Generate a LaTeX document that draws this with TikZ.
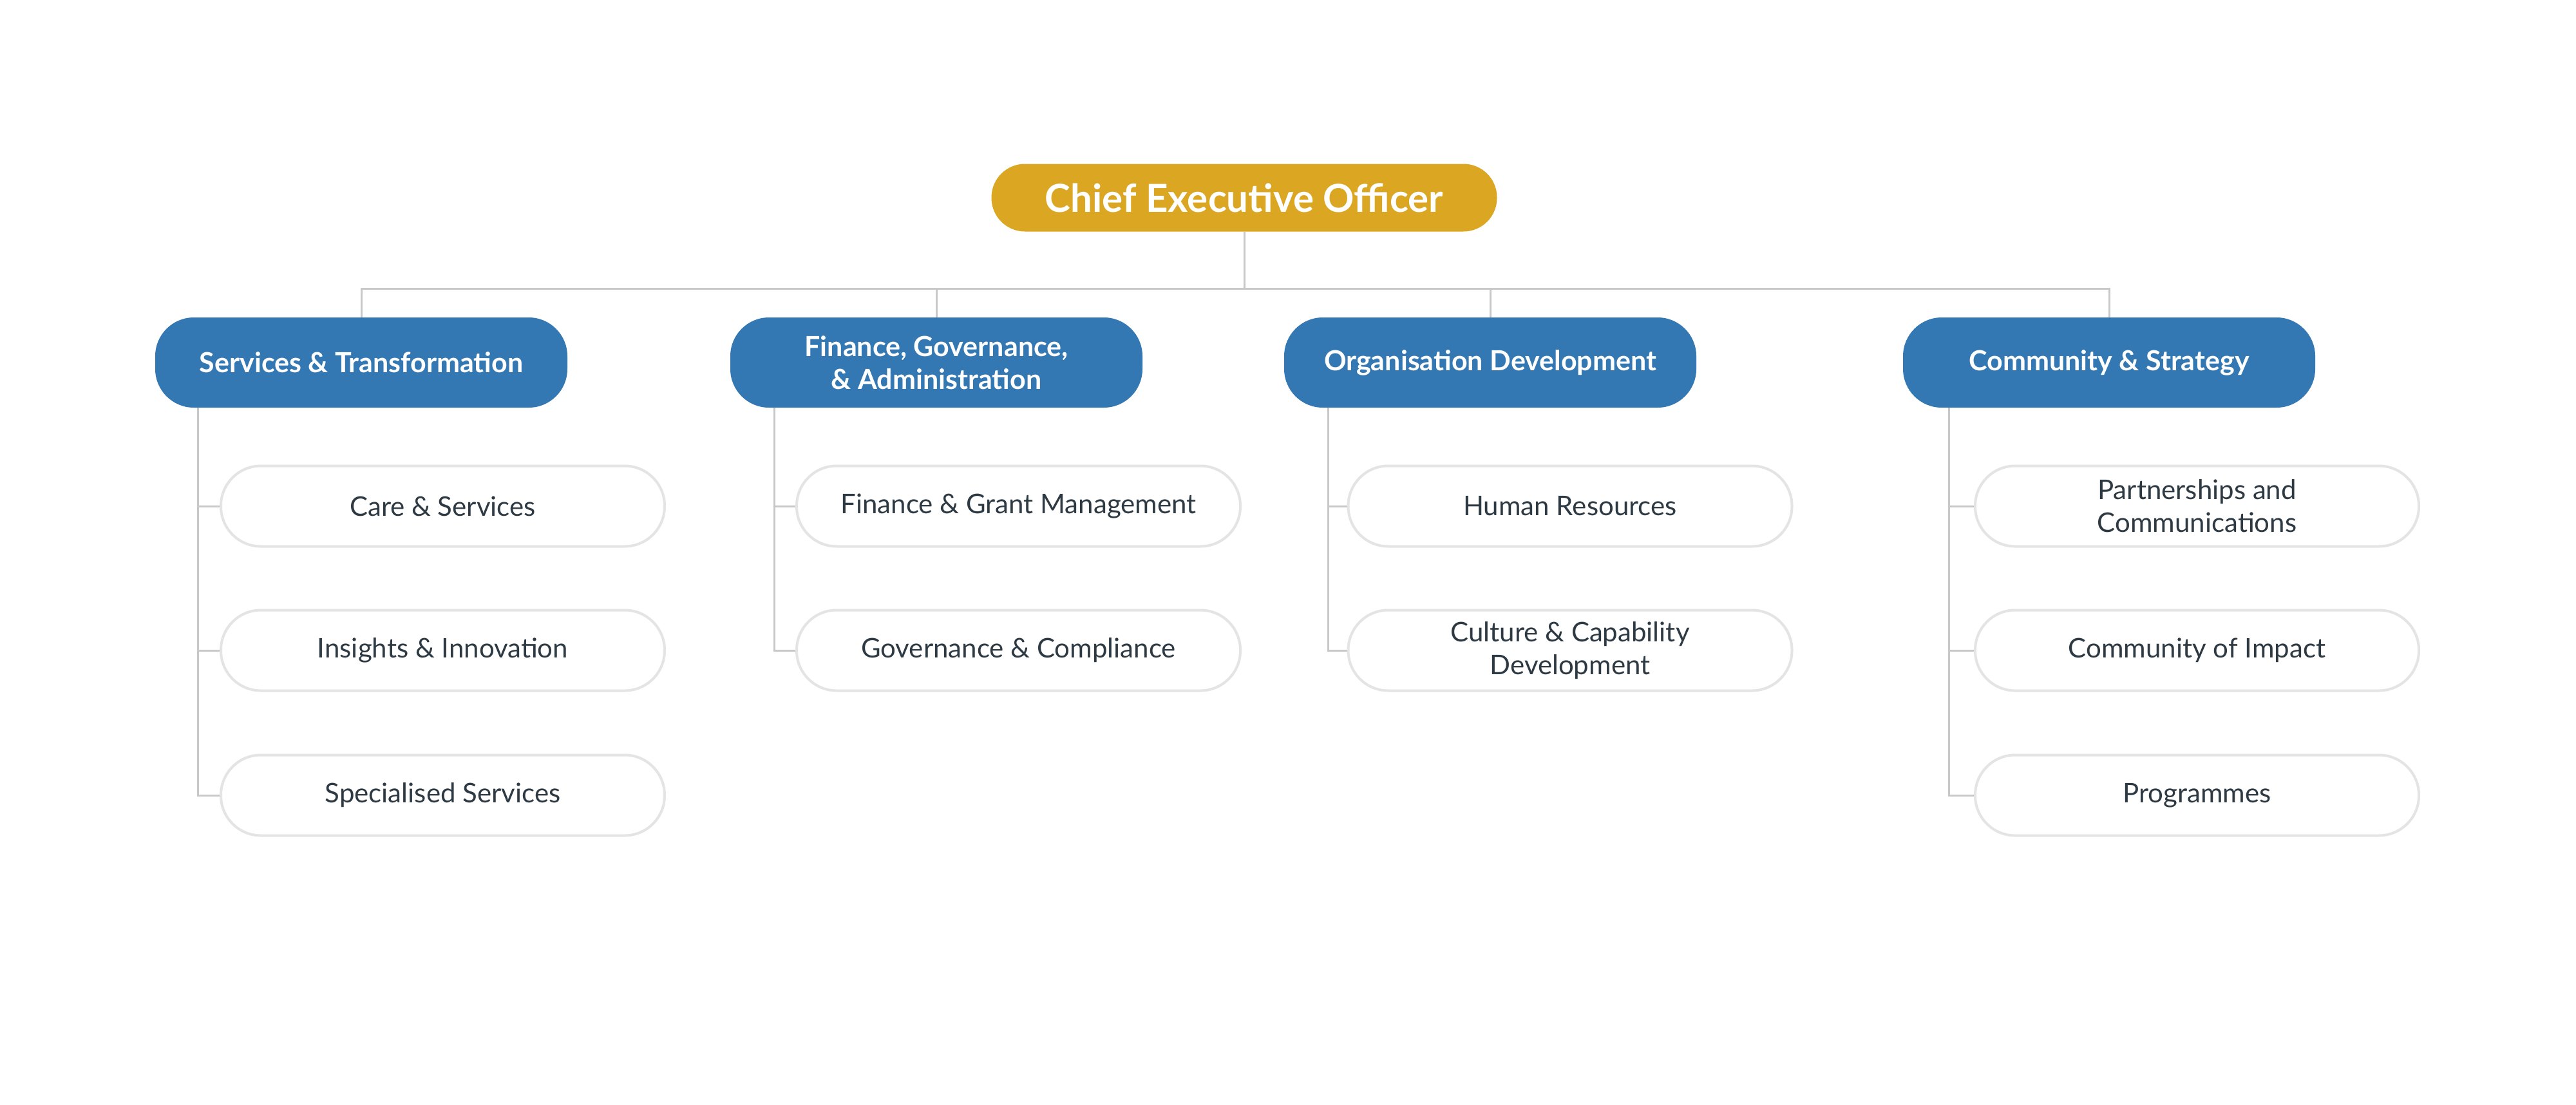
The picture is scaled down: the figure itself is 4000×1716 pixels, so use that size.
\documentclass[tikz,border=0pt]{standalone}
\usepackage{fontspec}
\setmainfont{Lato}
\definecolor{ceogold}{HTML}{DBA622}
\definecolor{deptblue}{HTML}{3378B3}
\definecolor{linegray}{HTML}{C8C8C8}
\definecolor{boxgray}{HTML}{E4E4E4}
\definecolor{textdark}{HTML}{2E3A43}
\begin{document}
\begin{tikzpicture}[x=1pt,y=-1pt,
  ceobox/.style={fill=ceogold, rounded corners=52pt, minimum width=785pt, minimum height=105pt,
    text=white, font=\fontsize{60}{64}\selectfont\bfseries, inner sep=0pt},
  deptbox/.style={fill=deptblue, rounded corners=60pt, minimum width=640pt, minimum height=140pt,
    text=white, font=\fontsize{43}{51}\selectfont\bfseries, align=center, inner sep=0pt},
  unitbox/.style={draw=boxgray, line width=4pt, fill=white, rounded corners=62pt,
    minimum width=689pt, minimum height=125pt, text=textdark,
    font=\fontsize{42}{51}\selectfont, align=center, inner sep=0pt},
  conn/.style={draw=linegray, line width=3pt}]
\fill[white] (0,0) rectangle (4000,1716);
\useasboundingbox (0,0) rectangle (4000,1716);

% nodes
\node[ceobox] (ceo) at (1932,307) {Chief Executive Officer};

\node[deptbox] (d1) at (561,563) {Services \& Transformation};
\node[deptbox] (d2) at (1454,563) {Finance, Governance,\\\& Administration};
\node[deptbox] (d3) at (2314,563) {Organisation Development};
\node[deptbox] (d4) at (3275,563) {Community \& Strategy};

\node[unitbox] (u11) at (687.5,786) {Care \& Services};
\node[unitbox] (u12) at (687.5,1010) {Insights \& Innovation};
\node[unitbox] (u13) at (687.5,1235) {Specialised Services};

\node[unitbox] (u21) at (1581.5,786) {Finance \& Grant Management};
\node[unitbox] (u22) at (1581.5,1010) {Governance \& Compliance};

\node[unitbox] (u31) at (2438,786) {Human Resources};
\node[unitbox] (u32) at (2438,1010) {Culture \& Capability\\Development};

\node[unitbox] (u41) at (3411.5,786) {Partnerships and\\Communications};
\node[unitbox] (u42) at (3411.5,1010) {Community of Impact};
\node[unitbox] (u43) at (3411.5,1235) {Programmes};

% branch coordinates
\coordinate (bus) at (0,448);
\coordinate (b1) at (307,0);
\coordinate (b2) at (1202,0);
\coordinate (b3) at (2062,0);
\coordinate (b4) at (3026,0);

% top level connectors
\draw[conn] (ceo.south) -- (ceo.south |- bus);
\draw[conn] (d1.north) -- (d1.north |- bus) -- (d4.north |- bus) -- (d4.north);
\draw[conn] (d2.north |- bus) -- (d2.north);
\draw[conn] (d3.north |- bus) -- (d3.north);

% branch connectors
\draw[conn] (d1.south -| b1) |- (u13.west);
\draw[conn] (b1 |- u11.west) -- (u11.west);
\draw[conn] (b1 |- u12.west) -- (u12.west);

\draw[conn] (d2.south -| b2) |- (u22.west);
\draw[conn] (b2 |- u21.west) -- (u21.west);

\draw[conn] (d3.south -| b3) |- (u32.west);
\draw[conn] (b3 |- u31.west) -- (u31.west);

\draw[conn] (d4.south -| b4) |- (u43.west);
\draw[conn] (b4 |- u41.west) -- (u41.west);
\draw[conn] (b4 |- u42.west) -- (u42.west);
\end{tikzpicture}
\end{document}
